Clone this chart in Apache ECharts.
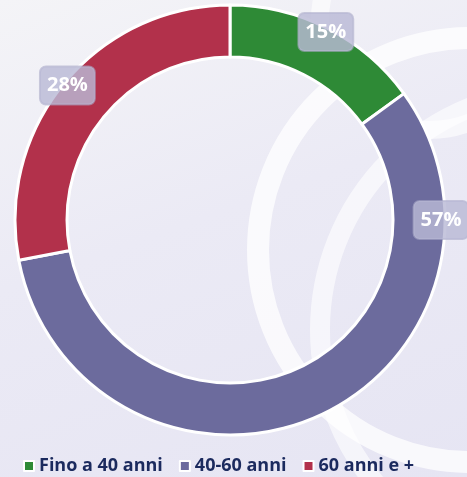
<!DOCTYPE html>
<html lang="it">
<head>
  <meta charset="UTF-8">
  <title>Età</title>
  <script src="https://cdn.jsdelivr.net/npm/echarts@6/dist/echarts.min.js"></script>
  <style>
    html, body { margin: 0; padding: 0; }
    #main {
      width: 467px;
      height: 477px;
      background: linear-gradient(160deg, #f4f4f7 0%, #ebeaf5 45%, #e6e5f3 100%);
    }
  </style>
</head>
<body>

<div id="main"></div>

<script>
  // dati
  var categories = ['Fino a 40 anni', '40-60 anni', '60 anni e +'];
  var values = [15, 57, 28];
  var colors = ['#2e8a36', '#6c6b9d', '#b2314b'];

  var cx = 230, cy = 220, rOut = 215, rIn = 163;

  var total = values.reduce(function (a, b) { return a + b; }, 0);

  // angolo (gradi dal nord, orario) dove mettere l'etichetta
  function labelAngle(i) {
    if (i === 1) return 90; // etichetta spostata sul lato destro
    var before = 0;
    for (var k = 0; k < i; k++) before += values[k];
    return (before + values[i] / 2) / total * 360;
  }

  var data = [];
  for (var i = 0; i < categories.length; i++) {
    data.push({ name: categories[i], value: values[i], itemStyle: { color: colors[i] } });
  }

  var chart = echarts.init(document.getElementById('main'));
  chart.setOption({
    textStyle: { fontFamily: 'Open Sans' },
    graphic: [
      // archi decorativi di sfondo
      { type: 'circle', silent: true, z: -1, shape: { cx: 470, cy: 250, r: 212 },
        style: { fill: 'none', stroke: 'rgba(255,255,255,0.75)', lineWidth: 22 } },
      { type: 'circle', silent: true, z: -1, shape: { cx: 560, cy: 330, r: 240 },
        style: { fill: 'none', stroke: 'rgba(255,255,255,0.6)', lineWidth: 20 } },
      { type: 'circle', silent: true, z: -1, shape: { cx: 430, cy: 20, r: 110 },
        style: { fill: 'none', stroke: 'rgba(255,255,255,0.6)', lineWidth: 18 } }
    ],
    legend: {
      top: 452,
      left: 18,
      icon: 'rect',
      itemWidth: 10,
      itemHeight: 10,
      itemGap: 16,
      data: categories,
      textStyle: { color: '#1b2a5e', fontSize: 18, fontWeight: 'bold', fontFamily: 'Open Sans' }
    },
    series: [{
      type: 'pie',
      center: [cx, cy],
      radius: [rIn, rOut],
      startAngle: 90,
      clockwise: true,
      avoidLabelOverlap: false,
      itemStyle: { borderColor: '#ffffff', borderWidth: 3 },
      label: {
        show: true,
        position: 'inside',
        formatter: '{d}%',
        color: '#ffffff',
        fontSize: 20,
        fontWeight: 'bold',
        fontFamily: 'Open Sans',
        lineHeight: 22,
        backgroundColor: 'rgba(186,186,214,0.82)',
        borderColor: 'rgba(170,170,200,0.6)',
        borderWidth: 1,
        borderRadius: 6,
        padding: [9, 7, 7, 7]
      },
      labelLayout: function (p) {
        var a = labelAngle(p.dataIndex) * Math.PI / 180;
        var r = 211;
        return {
          x: cx + r * Math.sin(a),
          y: cy - r * Math.cos(a),
          align: 'center',
          verticalAlign: 'middle'
        };
      },
      labelLine: { show: false },
      emphasis: { disabled: true },
      data: data
    }]
  });
</script>
</body>
</html>
